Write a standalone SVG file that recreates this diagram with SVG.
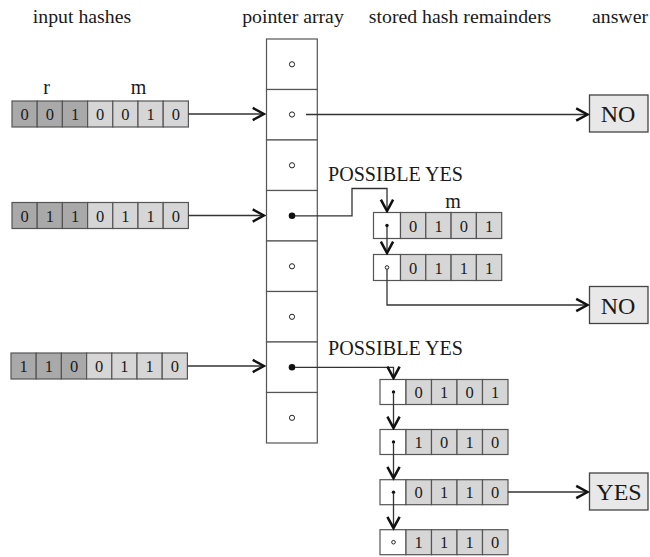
<svg xmlns="http://www.w3.org/2000/svg" width="650" height="557" viewBox="0 0 650 557">
  <style>
    text { font-family: "Liberation Serif", "Times New Roman", serif; fill: #1a1a1a; }
    .hdr { font-size: 19.8px; text-anchor: middle; }
    .bit { font-size: 16.5px; text-anchor: middle; }
    .lbl { font-size: 20px; text-anchor: middle; }
    .ans { font-size: 24px; text-anchor: middle; }
    .py { font-size: 20.1px; }
    .dk { fill: #a9a9a9; stroke: #555; stroke-width: 1.2; }
    .lt { fill: #d6d6d6; stroke: #555; stroke-width: 1.2; }
    .wh { fill: #ffffff; stroke: #555; stroke-width: 1.2; }
    .ab { fill: #e8e8e8; stroke: #444; stroke-width: 1.3; }
    .ln { fill: none; stroke: #333; stroke-width: 1.3; }
    .oc { fill: #fff; stroke: #222; stroke-width: 1; }
    .fc { fill: #111; }
  </style>
  <defs>
    <marker id="chev" markerUnits="userSpaceOnUse" markerWidth="16" markerHeight="16" viewBox="-2 -2 16 17" refX="12" refY="6.5" orient="auto">
      <path d="M0,0 L12,6.5 L0,13" fill="none" stroke="#111" stroke-width="2.7" stroke-linejoin="miter"/>
    </marker>
  </defs>

  <!-- column headings -->
  <g id="headings">
    <text class="hdr" x="82" y="23">input hashes</text>
    <text class="hdr" x="293" y="23">pointer array</text>
    <text class="hdr" x="460" y="23">stored hash remainders</text>
    <text class="hdr" x="620" y="23">answer</text>
  </g>

  <!-- input hash 0010010 -->
  <g id="hash1">
    <text class="lbl" x="46.5" y="94">r</text>
    <text class="lbl" x="138.5" y="94">m</text>
    <rect class="dk" x="12" y="101" width="25.2" height="26"/>
    <rect class="dk" x="37.2" y="101" width="25.2" height="26"/>
    <rect class="dk" x="62.4" y="101" width="25.2" height="26"/>
    <rect class="lt" x="87.6" y="101" width="25.2" height="26"/>
    <rect class="lt" x="112.8" y="101" width="25.2" height="26"/>
    <rect class="lt" x="138" y="101" width="25.2" height="26"/>
    <rect class="lt" x="163.2" y="101" width="25.2" height="26"/>
    <text class="bit" x="24.6" y="120">0</text>
    <text class="bit" x="49.8" y="120">0</text>
    <text class="bit" x="75" y="120">1</text>
    <text class="bit" x="100.2" y="120">0</text>
    <text class="bit" x="125.4" y="120">0</text>
    <text class="bit" x="150.6" y="120">1</text>
    <text class="bit" x="175.8" y="120">0</text>
  </g>

  <!-- input hash 0110110 -->
  <g id="hash2">
    <rect class="dk" x="12" y="202.5" width="25.2" height="26"/>
    <rect class="dk" x="37.2" y="202.5" width="25.2" height="26"/>
    <rect class="dk" x="62.4" y="202.5" width="25.2" height="26"/>
    <rect class="lt" x="87.6" y="202.5" width="25.2" height="26"/>
    <rect class="lt" x="112.8" y="202.5" width="25.2" height="26"/>
    <rect class="lt" x="138" y="202.5" width="25.2" height="26"/>
    <rect class="lt" x="163.2" y="202.5" width="25.2" height="26"/>
    <text class="bit" x="24.6" y="221.5">0</text>
    <text class="bit" x="49.8" y="221.5">1</text>
    <text class="bit" x="75" y="221.5">1</text>
    <text class="bit" x="100.2" y="221.5">0</text>
    <text class="bit" x="125.4" y="221.5">1</text>
    <text class="bit" x="150.6" y="221.5">1</text>
    <text class="bit" x="175.8" y="221.5">0</text>
  </g>

  <!-- input hash 1100110 -->
  <g id="hash3">
    <rect class="dk" x="11" y="353" width="25.2" height="26"/>
    <rect class="dk" x="36.2" y="353" width="25.2" height="26"/>
    <rect class="dk" x="61.4" y="353" width="25.2" height="26"/>
    <rect class="lt" x="86.6" y="353" width="25.2" height="26"/>
    <rect class="lt" x="111.8" y="353" width="25.2" height="26"/>
    <rect class="lt" x="137" y="353" width="25.2" height="26"/>
    <rect class="lt" x="162.2" y="353" width="25.2" height="26"/>
    <text class="bit" x="23.6" y="372">1</text>
    <text class="bit" x="48.8" y="372">1</text>
    <text class="bit" x="74" y="372">0</text>
    <text class="bit" x="99.2" y="372">0</text>
    <text class="bit" x="124.4" y="372">1</text>
    <text class="bit" x="149.6" y="372">1</text>
    <text class="bit" x="174.8" y="372">0</text>
  </g>

  <!-- pointer array: 8 slots -->
  <g id="pointer-array">
    <rect class="wh" x="266.5" y="39" width="50.8" height="50.5"/>
    <rect class="wh" x="266.5" y="89.5" width="50.8" height="50.5"/>
    <rect class="wh" x="266.5" y="140" width="50.8" height="50.5"/>
    <rect class="wh" x="266.5" y="190.5" width="50.8" height="50.5"/>
    <rect class="wh" x="266.5" y="241" width="50.8" height="50.5"/>
    <rect class="wh" x="266.5" y="291.5" width="50.8" height="50.5"/>
    <rect class="wh" x="266.5" y="342" width="50.8" height="50.5"/>
    <rect class="wh" x="266.5" y="392.5" width="50.8" height="50.5"/>
    <circle class="oc" cx="292" cy="64.3" r="2.6"/>
    <circle class="oc" cx="292" cy="114.5" r="2.6"/>
    <circle class="oc" cx="292" cy="165.3" r="2.6"/>
    <circle class="fc" cx="292" cy="215.8" r="3.3"/>
    <circle class="oc" cx="292" cy="266.3" r="2.6"/>
    <circle class="oc" cx="292" cy="316.8" r="2.6"/>
    <circle class="fc" cx="292" cy="367.3" r="3.3"/>
    <circle class="oc" cx="292" cy="417.8" r="2.6"/>
  </g>

  <!-- bucket 3 chain -->
  <g id="rec-a1">
    <text class="lbl" x="453" y="208">m</text>
    <rect class="wh" x="373.5" y="212.5" width="27" height="26"/>
    <rect class="lt" x="400.5" y="212.5" width="25.3" height="26"/>
    <rect class="lt" x="425.8" y="212.5" width="25.3" height="26"/>
    <rect class="lt" x="451.1" y="212.5" width="25.3" height="26"/>
    <rect class="lt" x="476.4" y="212.5" width="25.3" height="26"/>
    <circle class="fc" cx="387" cy="225.5" r="1.7"/>
    <text class="bit" x="413.2" y="231.5">0</text>
    <text class="bit" x="438.5" y="231.5">1</text>
    <text class="bit" x="463.8" y="231.5">0</text>
    <text class="bit" x="489" y="231.5">1</text>
  </g>
  <g id="rec-a2">
    <rect class="wh" x="373.5" y="254.5" width="27" height="26"/>
    <rect class="lt" x="400.5" y="254.5" width="25.3" height="26"/>
    <rect class="lt" x="425.8" y="254.5" width="25.3" height="26"/>
    <rect class="lt" x="451.1" y="254.5" width="25.3" height="26"/>
    <rect class="lt" x="476.4" y="254.5" width="25.3" height="26"/>
    <circle class="oc" cx="387" cy="267.5" r="1.8"/>
    <text class="bit" x="413.2" y="273.5">0</text>
    <text class="bit" x="438.5" y="273.5">1</text>
    <text class="bit" x="463.8" y="273.5">1</text>
    <text class="bit" x="489" y="273.5">1</text>
  </g>

  <!-- bucket 6 chain -->
  <g id="rec-b1">
    <rect class="wh" x="380" y="379.5" width="26" height="25"/>
    <rect class="lt" x="406" y="379.5" width="25.5" height="25"/>
    <rect class="lt" x="431.5" y="379.5" width="25.5" height="25"/>
    <rect class="lt" x="457" y="379.5" width="25.5" height="25"/>
    <rect class="lt" x="482.5" y="379.5" width="25.5" height="25"/>
    <circle class="fc" cx="393.5" cy="392" r="1.7"/>
    <text class="bit" x="418.7" y="398">0</text>
    <text class="bit" x="444.2" y="398">1</text>
    <text class="bit" x="469.7" y="398">0</text>
    <text class="bit" x="495.2" y="398">1</text>
  </g>
  <g id="rec-b2">
    <rect class="wh" x="380" y="429.5" width="26" height="25"/>
    <rect class="lt" x="406" y="429.5" width="25.5" height="25"/>
    <rect class="lt" x="431.5" y="429.5" width="25.5" height="25"/>
    <rect class="lt" x="457" y="429.5" width="25.5" height="25"/>
    <rect class="lt" x="482.5" y="429.5" width="25.5" height="25"/>
    <circle class="fc" cx="393.5" cy="442" r="1.7"/>
    <text class="bit" x="418.7" y="448">1</text>
    <text class="bit" x="444.2" y="448">0</text>
    <text class="bit" x="469.7" y="448">1</text>
    <text class="bit" x="495.2" y="448">0</text>
  </g>
  <g id="rec-b3">
    <rect class="wh" x="380" y="479.7" width="26" height="25"/>
    <rect class="lt" x="406" y="479.7" width="25.5" height="25"/>
    <rect class="lt" x="431.5" y="479.7" width="25.5" height="25"/>
    <rect class="lt" x="457" y="479.7" width="25.5" height="25"/>
    <rect class="lt" x="482.5" y="479.7" width="25.5" height="25"/>
    <circle class="fc" cx="393.5" cy="492.2" r="1.7"/>
    <text class="bit" x="418.7" y="498.2">0</text>
    <text class="bit" x="444.2" y="498.2">1</text>
    <text class="bit" x="469.7" y="498.2">1</text>
    <text class="bit" x="495.2" y="498.2">0</text>
  </g>
  <g id="rec-b4">
    <rect class="wh" x="380" y="529.7" width="26" height="25"/>
    <rect class="lt" x="406" y="529.7" width="25.5" height="25"/>
    <rect class="lt" x="431.5" y="529.7" width="25.5" height="25"/>
    <rect class="lt" x="457" y="529.7" width="25.5" height="25"/>
    <rect class="lt" x="482.5" y="529.7" width="25.5" height="25"/>
    <circle class="oc" cx="393.5" cy="542.2" r="1.8"/>
    <text class="bit" x="418.7" y="548.2">1</text>
    <text class="bit" x="444.2" y="548.2">1</text>
    <text class="bit" x="469.7" y="548.2">1</text>
    <text class="bit" x="495.2" y="548.2">0</text>
  </g>

  <!-- answers -->
  <g id="ans-no1">
    <rect class="ab" x="589.5" y="95" width="58.5" height="37"/>
    <text class="ans" x="618" y="122">NO</text>
  </g>
  <g id="ans-no2">
    <rect class="ab" x="589.5" y="286.5" width="58.5" height="37"/>
    <text class="ans" x="618" y="313.5">NO</text>
  </g>
  <g id="ans-yes">
    <rect class="ab" x="589.5" y="473" width="58.5" height="37"/>
    <text class="ans" x="619" y="500">YES</text>
  </g>

  <!-- annotations -->
  <g id="notes">
    <text class="py" x="328" y="181">POSSIBLE YES</text>
    <text class="py" x="328" y="355">POSSIBLE YES</text>
  </g>

  <!-- connectors -->
  <g id="connectors">
    <path class="ln" d="M188.4,114 H264" marker-end="url(#chev)"/>
    <path class="ln" d="M188.4,215.5 H264" marker-end="url(#chev)"/>
    <path class="ln" d="M187.4,366 H264" marker-end="url(#chev)"/>
    <path class="ln" d="M306,114.5 H587.5" marker-end="url(#chev)"/>
    <path class="ln" d="M295,215.8 H352 V188.5 H387 V211" marker-end="url(#chev)"/>
    <path class="ln" d="M387,227 V253" marker-end="url(#chev)"/>
    <path class="ln" d="M387,269.3 V305 H587.5" marker-end="url(#chev)"/>
    <path class="ln" d="M295,367.3 H393.5 V378" marker-end="url(#chev)"/>
    <path class="ln" d="M393.5,393.5 V428" marker-end="url(#chev)"/>
    <path class="ln" d="M393.5,443.5 V478.2" marker-end="url(#chev)"/>
    <path class="ln" d="M393.5,493.7 V528.2" marker-end="url(#chev)"/>
    <path class="ln" d="M508,492 H587.5" marker-end="url(#chev)"/>
  </g>
</svg>
